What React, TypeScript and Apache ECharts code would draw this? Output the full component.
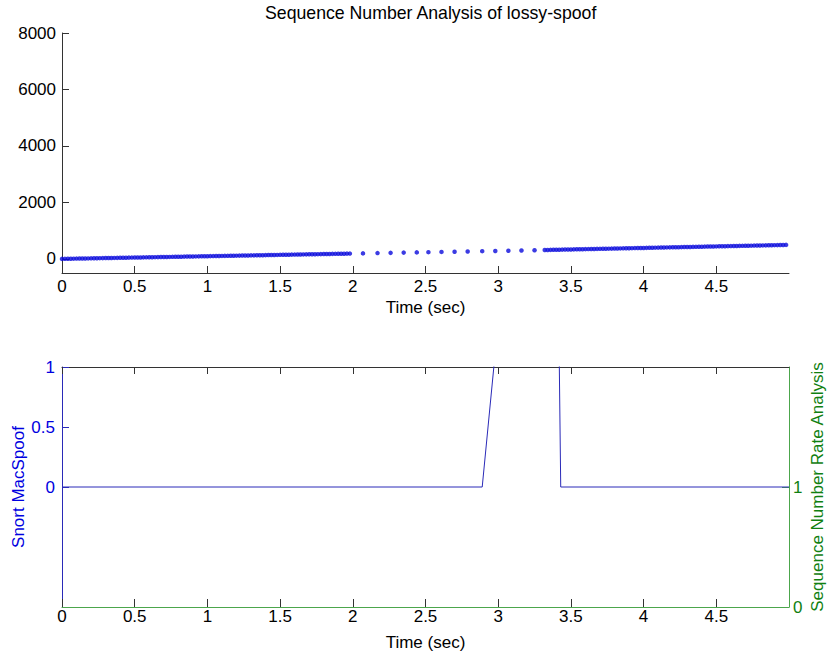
import React, { useEffect, useRef } from "react";
import * as echarts from "echarts";

const FONT = '"Liberation Sans", Arial, Helvetica, sans-serif';

// Top plot: sequence numbers (dense part A)
const seqTimesA = [
  0.0, 0.02, 0.04, 0.06, 0.08, 0.1, 0.12, 0.14, 0.16, 0.18,
  0.2, 0.22, 0.24, 0.26, 0.28, 0.3, 0.32, 0.34, 0.36, 0.38,
  0.4, 0.42, 0.44, 0.46, 0.48, 0.5, 0.52, 0.54, 0.56, 0.58,
  0.6, 0.62, 0.64, 0.66, 0.68, 0.7, 0.72, 0.74, 0.76, 0.78,
  0.8, 0.82, 0.84, 0.86, 0.88, 0.9, 0.92, 0.94, 0.96, 0.98,
  1.0, 1.02, 1.04, 1.06, 1.08, 1.1, 1.12, 1.14, 1.16, 1.18,
  1.2, 1.22, 1.24, 1.26, 1.28, 1.3, 1.32, 1.34, 1.36, 1.38,
  1.4, 1.42, 1.44, 1.46, 1.48, 1.5, 1.52, 1.54, 1.56, 1.58,
  1.6, 1.62, 1.64, 1.66, 1.68, 1.7, 1.72, 1.74, 1.76, 1.78,
  1.8, 1.82, 1.84, 1.86, 1.88, 1.9, 1.92, 1.94, 1.96, 1.98,
];
const seqValuesA = [
  0, 2, 4, 6, 8, 10, 11, 13, 15, 17,
  19, 21, 23, 25, 27, 29, 30, 32, 34, 36,
  38, 40, 42, 44, 46, 48, 49, 51, 53, 55,
  57, 59, 61, 63, 65, 67, 68, 70, 72, 74,
  76, 78, 80, 82, 84, 86, 87, 89, 91, 93,
  95, 97, 99, 101, 103, 105, 106, 108, 110, 112,
  114, 116, 118, 120, 122, 124, 125, 127, 129, 131,
  133, 135, 137, 139, 141, 143, 144, 146, 148, 150,
  152, 154, 156, 158, 160, 162, 163, 165, 167, 169,
  171, 173, 175, 177, 179, 181, 182, 184, 186, 188,
];

// Sparse (lossy) part
const seqTimesGap = [2.07, 2.17, 2.26, 2.35, 2.44, 2.52, 2.61, 2.7, 2.79, 2.89, 2.98, 3.07, 3.16, 3.25];
const seqValuesGap = [195, 205, 213, 222, 230, 238, 247, 255, 264, 273, 281, 290, 298, 307];

// Dense part B
const seqTimesB = [
  3.32, 3.34, 3.36, 3.38, 3.4, 3.42, 3.44, 3.46, 3.48, 3.5,
  3.52, 3.54, 3.56, 3.58, 3.6, 3.62, 3.64, 3.66, 3.68, 3.7,
  3.72, 3.74, 3.76, 3.78, 3.8, 3.82, 3.84, 3.86, 3.88, 3.9,
  3.92, 3.94, 3.96, 3.98, 4.0, 4.02, 4.04, 4.06, 4.08, 4.1,
  4.12, 4.14, 4.16, 4.18, 4.2, 4.22, 4.24, 4.26, 4.28, 4.3,
  4.32, 4.34, 4.36, 4.38, 4.4, 4.42, 4.44, 4.46, 4.48, 4.5,
  4.52, 4.54, 4.56, 4.58, 4.6, 4.62, 4.64, 4.66, 4.68, 4.7,
  4.72, 4.74, 4.76, 4.78, 4.8, 4.82, 4.84, 4.86, 4.88, 4.9,
  4.92, 4.94, 4.96, 4.98,
];
const seqValuesB = [
  315, 317, 319, 321, 324, 326, 328, 330, 332, 334,
  336, 339, 341, 343, 345, 347, 349, 351, 354, 356,
  358, 360, 362, 364, 367, 369, 371, 373, 375, 377,
  380, 382, 384, 386, 388, 390, 393, 395, 397, 399,
  401, 403, 406, 408, 410, 412, 414, 416, 419, 421,
  423, 425, 427, 429, 432, 434, 436, 438, 440, 442,
  445, 447, 449, 451, 453, 455, 458, 460, 462, 464,
  466, 468, 471, 473, 475, 477, 479, 481, 484, 486,
  488, 490, 492, 496,
];

// Bottom plot: Snort MacSpoof alarm signal (peak goes above the axis limit and is clipped)
const alarmTimes = [0, 2.89, 2.99, 3.418, 3.43, 5];
const alarmValues = [0, 0, 1.25, 1.25, 0, 0];

// Tick labels
const timeTicks = [0, 0.5, 1, 1.5, 2, 2.5, 3, 3.5, 4, 4.5];
const seqTicks = [0, 2000, 4000, 6000, 8000];
const alarmTicks = [0, 0.5, 1];
const rateTicks = [0, 1];

const BLUE_TEXT = "#0000e0";
const BLUE_LINE = "#2a2ab8";
const GREEN_TEXT = "#108010";
const GREEN_LINE = "#4ca64c";
const DOT_BLUE = "#0a0adc";
const DARK = "#333333";

const zip = (xs: number[], ys: number[]) => xs.map((x, i) => [x, ys[i]]);

export default function App() {
  const ref = useRef<HTMLDivElement>(null);
  useEffect(() => {
    if (!ref.current) return;
    const chart = echarts.init(ref.current, null, { renderer: "svg" });
    const tickStyle = (color: string, len = 7) => ({
      show: true,
      inside: true,
      length: len,
      lineStyle: { color, width: 1 },
    });
    const baseText = { fontFamily: FONT, fontSize: 17 };
    const plain = (v: number) => String(v);
    chart.setOption({
      animation: false,
      backgroundColor: "#ffffff",
      textStyle: { fontFamily: FONT },
      title: {
        text: "Sequence Number Analysis of lossy-spoof",
        left: 265,
        top: 4,
        padding: 0,
        textStyle: { fontFamily: FONT, fontSize: 17.7, fontWeight: "normal", color: "#000" },
      },
      grid: [
        { left: 62, top: 33, width: 727, height: 240, containLabel: false, outerBoundsMode: "none" },
        { left: 62, top: 367, width: 727, height: 240, containLabel: false, outerBoundsMode: "none" },
      ],
      xAxis: [
        {
          type: "value",
          gridIndex: 0,
          min: 0,
          max: 5,
          position: "bottom",
          name: "Time (sec)",
          nameLocation: "middle",
          nameGap: 26,
          nameMoveOverlap: false,
          nameTextStyle: { ...baseText, color: "#000" },
          axisLine: { show: true, onZero: false, lineStyle: { color: DARK } },
          axisTick: { ...tickStyle(DARK, 7), customValues: timeTicks },
          axisLabel: { ...baseText, color: "#000", margin: 5, formatter: plain, customValues: timeTicks },
          splitLine: { show: false },
        },
        {
          type: "value",
          gridIndex: 1,
          min: 0,
          max: 5,
          position: "bottom",
          name: "Time (sec)",
          nameLocation: "middle",
          nameGap: 27,
          nameMoveOverlap: false,
          nameTextStyle: { ...baseText, color: "#000" },
          axisLine: { show: true, onZero: false, lineStyle: { color: GREEN_LINE } },
          axisTick: { ...tickStyle(DARK, 8), customValues: timeTicks },
          axisLabel: { ...baseText, color: "#000", margin: 1, formatter: plain, customValues: timeTicks },
          splitLine: { show: false },
        },
        {
          type: "value",
          gridIndex: 1,
          min: 0,
          max: 5,
          position: "top",
          axisLine: { show: true, onZero: false, lineStyle: { color: DARK } },
          axisTick: { ...tickStyle(DARK, 7), customValues: timeTicks },
          axisLabel: { show: false },
          splitLine: { show: false },
        },
      ],
      yAxis: [
        {
          type: "value",
          gridIndex: 0,
          min: -500,
          max: 8000,
          position: "left",
          axisLine: { show: true, onZero: false, lineStyle: { color: DARK } },
          axisTick: { ...tickStyle(DARK, 7), customValues: seqTicks },
          axisLabel: { ...baseText, color: "#000", margin: 6, formatter: plain, customValues: seqTicks },
          splitLine: { show: false },
        },
        {
          type: "value",
          gridIndex: 1,
          min: -1,
          max: 1,
          position: "left",
          name: "Snort MacSpoof",
          nameLocation: "middle",
          nameGap: 35,
          nameMoveOverlap: false,
          nameTextStyle: { ...baseText, color: BLUE_TEXT },
          axisLine: { show: true, onZero: false, lineStyle: { color: BLUE_LINE } },
          axisTick: { ...tickStyle(BLUE_LINE, 7), customValues: alarmTicks },
          axisLabel: { ...baseText, color: BLUE_TEXT, margin: 7, formatter: plain, customValues: alarmTicks },
          splitLine: { show: false },
        },
        {
          type: "value",
          gridIndex: 1,
          min: 0,
          max: 2,
          position: "right",
          name: "Sequence Number Rate Analysis",
          nameLocation: "middle",
          nameGap: 20,
          nameMoveOverlap: false,
          nameTextStyle: { ...baseText, color: GREEN_TEXT },
          axisLine: { show: true, onZero: false, lineStyle: { color: GREEN_LINE } },
          axisTick: { ...tickStyle(GREEN_LINE, 7), customValues: rateTicks },
          axisLabel: { ...baseText, color: GREEN_TEXT, margin: 4, formatter: plain, customValues: rateTicks },
          splitLine: { show: false },
        },
      ],
      series: [
        {
          type: "scatter",
          xAxisIndex: 0,
          yAxisIndex: 0,
          symbol: "circle",
          symbolSize: 4.5,
          itemStyle: { color: DOT_BLUE },
          data: [
            ...zip(seqTimesA, seqValuesA),
            ...zip(seqTimesGap, seqValuesGap),
            ...zip(seqTimesB, seqValuesB),
          ],
        },
        {
          type: "line",
          xAxisIndex: 1,
          yAxisIndex: 1,
          showSymbol: false,
          symbol: "none",
          clip: true,
          lineStyle: { color: BLUE_LINE, width: 1 },
          data: zip(alarmTimes, alarmValues),
        },
      ],
    });
    return () => chart.dispose();
  }, []);
  return (
    <div
      ref={ref}
      style={{ position: "fixed", left: 0, top: 0, width: 828, height: 652, background: "#fff" }}
    />
  );
}
